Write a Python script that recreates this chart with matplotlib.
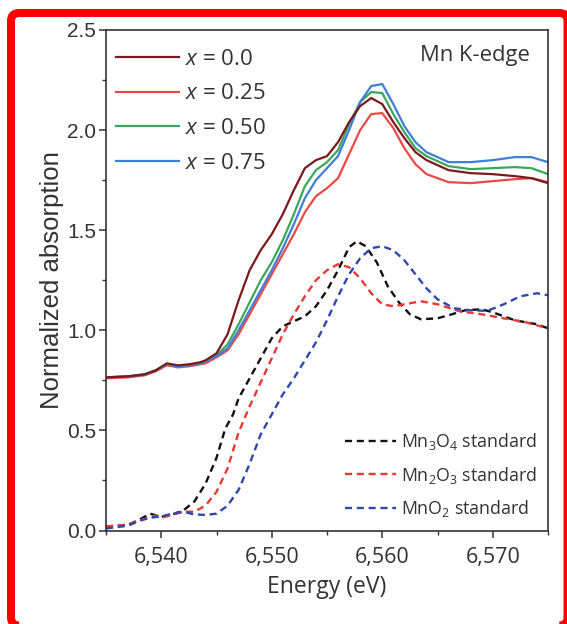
import matplotlib
matplotlib.use("Agg")
import matplotlib.pyplot as plt
from matplotlib.patches import FancyBboxPatch
from matplotlib.transforms import IdentityTransform
from matplotlib.ticker import MultipleLocator, FuncFormatter

plt.rcParams['font.family'] = ['Open Sans', 'DejaVu Sans']
plt.rcParams['mathtext.fontset'] = 'custom'
plt.rcParams['mathtext.rm'] = 'Open Sans'
plt.rcParams['mathtext.it'] = 'Open Sans:italic'

# ---- Mn K-edge XANES of the samples (solid curves) ----
energy_samples = [6535, 6537, 6538.5, 6539.5, 6540.5, 6541.5, 6542.5, 6543.5, 6544,
                  6545, 6546, 6547, 6548, 6549, 6550, 6551, 6552, 6553, 6554, 6555,
                  6556, 6557, 6558, 6559, 6560, 6561, 6562, 6563, 6564, 6566, 6568,
                  6570, 6572, 6573.5, 6575]
mu_x000 = [0.765, 0.77, 0.78, 0.80, 0.835, 0.825, 0.83, 0.84, 0.85,
           0.885, 0.98, 1.15, 1.30, 1.40, 1.48, 1.58, 1.70, 1.81, 1.85, 1.87,
           1.94, 2.04, 2.12, 2.16, 2.13, 2.04, 1.96, 1.89, 1.85, 1.80, 1.785,
           1.78, 1.77, 1.76, 1.735]
mu_x025 = [0.76, 0.765, 0.775, 0.795, 0.825, 0.815, 0.82, 0.83, 0.835,
           0.865, 0.90, 0.98, 1.08, 1.18, 1.28, 1.38, 1.48, 1.59, 1.67, 1.71,
           1.76, 1.88, 2.00, 2.08, 2.085, 2.01, 1.91, 1.83, 1.78, 1.74, 1.735,
           1.745, 1.755, 1.76, 1.74]
mu_x050 = [0.765, 0.77, 0.78, 0.80, 0.83, 0.82, 0.825, 0.835, 0.845,
           0.875, 0.93, 1.03, 1.14, 1.25, 1.34, 1.45, 1.58, 1.72, 1.80, 1.84,
           1.90, 2.03, 2.14, 2.19, 2.185, 2.08, 1.99, 1.91, 1.87, 1.82, 1.805,
           1.81, 1.815, 1.81, 1.78]
mu_x075 = [0.765, 0.77, 0.78, 0.80, 0.83, 0.82, 0.825, 0.835, 0.845,
           0.87, 0.91, 1.00, 1.10, 1.20, 1.30, 1.41, 1.53, 1.66, 1.75, 1.81,
           1.87, 2.00, 2.14, 2.22, 2.23, 2.13, 2.02, 1.94, 1.89, 1.84, 1.84,
           1.85, 1.865, 1.865, 1.84]

# ---- reference oxides (dashed curves) ----
energy_mn3o4 = [6535, 6537, 6538, 6539, 6540, 6541, 6542, 6543, 6544, 6545, 6545.8,
                6546.5, 6547, 6548, 6549, 6550, 6551, 6552, 6553, 6554, 6555, 6556,
                6557, 6557.7, 6558.5, 6559.5, 6560.5, 6561.5, 6562.5, 6563.5, 6565,
                6566, 6567.5, 6569, 6570, 6572, 6574, 6575]
mu_mn3o4 = [0.02, 0.028, 0.054, 0.084, 0.068, 0.08, 0.10, 0.145, 0.233, 0.363, 0.51,
            0.58, 0.66, 0.76, 0.86, 0.96, 1.02, 1.045, 1.07, 1.12, 1.20, 1.30,
            1.415, 1.445, 1.42, 1.34, 1.22, 1.14, 1.08, 1.055, 1.06,
            1.075, 1.10, 1.105, 1.09, 1.05, 1.03, 1.01]

energy_mn2o3 = [6535, 6537, 6538, 6539.5, 6540, 6541, 6542, 6543, 6544, 6545, 6546,
                6547, 6548, 6549, 6550, 6551, 6552, 6553, 6554, 6555, 6556, 6557,
                6558, 6559, 6560, 6561, 6562, 6563.5, 6565, 6567, 6569, 6571, 6573,
                6575]
mu_mn2o3 = [0.02, 0.03, 0.05, 0.075, 0.064, 0.078, 0.094, 0.094, 0.124, 0.193, 0.31,
            0.49, 0.62, 0.74, 0.86, 0.98, 1.08, 1.17, 1.25, 1.30, 1.33, 1.315,
            1.26, 1.185, 1.13, 1.12, 1.13, 1.145, 1.13, 1.095, 1.08, 1.06, 1.04,
            1.01]

energy_mno2 = [6535, 6537, 6538, 6539, 6540, 6541, 6542, 6543, 6544, 6545, 6546,
               6547, 6548, 6549, 6550, 6551, 6552, 6553, 6554, 6555, 6556, 6557,
               6558, 6559, 6560, 6561, 6562, 6563, 6564, 6565, 6566.5, 6568,
               6569.5, 6571, 6572.5, 6574, 6575]
mu_mno2 = [0.01, 0.024, 0.048, 0.064, 0.07, 0.084, 0.094, 0.08, 0.078, 0.084, 0.124,
           0.203, 0.333, 0.48, 0.58, 0.68, 0.76, 0.85, 0.94, 1.05, 1.17, 1.28,
           1.36, 1.41, 1.42, 1.40, 1.35, 1.28, 1.21, 1.155, 1.11, 1.10,
           1.097, 1.13, 1.17, 1.185, 1.175]

sample_labels = ['$x$ = 0.0', '$x$ = 0.25', '$x$ = 0.50', '$x$ = 0.75']
sample_colors = ['#7a1a1c', '#ea4a46', '#3aa85a', '#3d80d6']
standard_labels = ['Mn$_3$O$_4$ standard', 'Mn$_2$O$_3$ standard', 'MnO$_2$ standard']
standard_colors = ['#111111', '#e83a34', '#2e48b0']

TXT = '#333333'

fig = plt.figure(figsize=(5.67, 6.24), dpi=100)
ax = fig.add_axes([106 / 567, 1 - 530.5 / 624, 442 / 567, 500.5 / 624])

dash = (0, (3, 2))
std_lines = []
for e, mu, c, lab in zip([energy_mn3o4, energy_mn2o3, energy_mno2],
                         [mu_mn3o4, mu_mn2o3, mu_mno2],
                         standard_colors, standard_labels):
    ln, = ax.plot(e, mu, color=c, lw=1.7, linestyle=dash, label=lab)
    std_lines.append(ln)

smp_lines = []
for mu, c, lab in zip([mu_x000, mu_x025, mu_x050, mu_x075], sample_colors, sample_labels):
    ln, = ax.plot(energy_samples, mu, color=c, lw=1.6, label=lab)
    smp_lines.append(ln)
# keep the x = 0.0 curve drawn above the others
smp_lines[0].set_zorder(3)

ax.set_xlim(6535, 6575)
ax.set_ylim(0, 2.5)
ax.xaxis.set_major_locator(MultipleLocator(10))
ax.xaxis.set_minor_locator(MultipleLocator(5))
ax.yaxis.set_major_locator(MultipleLocator(0.5))
ax.yaxis.set_minor_locator(MultipleLocator(0.25))
ax.xaxis.set_major_formatter(FuncFormatter(lambda v, p: f"{int(round(v)):,}"))
ax.yaxis.set_major_formatter(FuncFormatter(lambda v, p: f"{v:.1f}"))
ax.tick_params(which='major', direction='out', length=5, width=1.1, color=TXT)
ax.tick_params(which='minor', direction='out', length=3, width=1.0, color=TXT)
ax.tick_params(axis='x', labelsize=15.5, pad=7, labelcolor=TXT)
ax.tick_params(axis='y', labelsize=15, pad=2, labelcolor=TXT)
for t in ax.get_yticklabels():
    t.set_family('Liberation Sans')
for s in ax.spines.values():
    s.set_linewidth(1.2)
    s.set_color(TXT)

ax.set_xlabel('Energy (eV)', fontsize=16.5, color=TXT, labelpad=5)
ax.set_ylabel('Normalized absorption', fontsize=18.5, family='Liberation Sans',
              color=TXT, labelpad=2)

ax.text(0.959, 0.97, 'Mn K-edge', transform=ax.transAxes, ha='right', va='top',
        fontsize=15.8, color=TXT)

leg1 = ax.legend(handles=smp_lines, loc='upper left', bbox_to_anchor=(0.0226, 0.963),
                 frameon=False, fontsize=16, handlelength=2.84, handletextpad=0.27,
                 labelspacing=0.62, borderaxespad=0, borderpad=0)
for t in leg1.get_texts():
    t.set_color(TXT)
ax.add_artist(leg1)

leg2 = ax.legend(handles=std_lines, loc='lower right', bbox_to_anchor=(0.975, 0.022),
                 frameon=False, fontsize=12.8, handlelength=2.9, handletextpad=0.28,
                 labelspacing=0.72, borderaxespad=0, borderpad=0)
for t in leg2.get_texts():
    t.set_color(TXT)

# red rounded frame around the figure
frame = FancyBboxPatch((11, -1.5), 556.5, 612.5,
                       boxstyle="round,pad=0,rounding_size=8",
                       transform=IdentityTransform(), fill=False,
                       edgecolor='#ff0000', linewidth=8 * 72 / 100)
fig.patches.append(frame)

fig.savefig('out.png', dpi=100)
